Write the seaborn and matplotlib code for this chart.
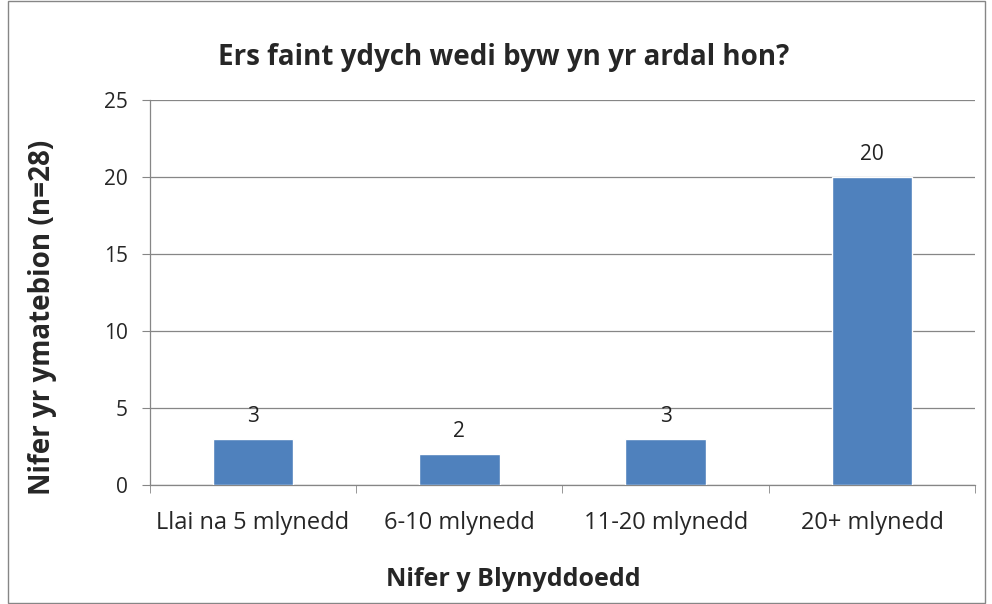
import matplotlib
matplotlib.use("Agg")
import matplotlib.pyplot as plt
import seaborn as sns
import pandas as pd
from matplotlib.patches import Rectangle

# data
categories = ["Llai na 5 mlynedd", "6-10 mlynedd", "11-20 mlynedd", "20+ mlynedd"]
counts = [3, 2, 3, 20]
title = "Ers faint ydych wedi byw yn yr ardal hon?"
xlabel = "Nifer y Blynyddoedd"
ylabel = "Nifer yr ymatebion (n=28)"

df = pd.DataFrame({"cat": categories, "n": counts})

sns.set_style("white")
plt.rcParams["font.family"] = ["Open Sans", "DejaVu Sans"]

fig = plt.figure(figsize=(9.92, 6.04), dpi=100)
ax = fig.add_axes([0.151, 0.197, 0.832, 0.637])

sns.barplot(data=df, x="cat", y="n", color="#4F81BD", width=0.39,
            saturation=1, ax=ax, zorder=3)

ax.set_ylim(0, 25)
ax.set_yticks(range(0, 26, 5))
ax.set_xlim(-0.5, len(categories) - 0.5)
ax.grid(axis="y", color="#868686", linewidth=0.9, zorder=0)
ax.set_axisbelow(True)

for i, v in enumerate(counts):
    ax.text(i, v + 0.8, str(v), ha="center", va="bottom", fontsize=15, color="#222222")

for s in ["top", "right"]:
    ax.spines[s].set_visible(False)
for s in ["left", "bottom"]:
    ax.spines[s].set_color("#868686")
    ax.spines[s].set_linewidth(0.9)

ax.tick_params(axis="y", left=True, length=6, color="#868686", labelsize=15, pad=10)
ax.tick_params(axis="x", bottom=False, labelsize=17, pad=15)
# category boundary ticks on x axis
ax.set_xticks([i - 0.5 for i in range(len(categories) + 1)], minor=True)
ax.tick_params(axis="x", which="minor", bottom=True, length=6, color="#868686")

ax.set_xlabel(xlabel, fontsize=18, fontweight="bold")
ax.set_ylabel(ylabel, fontsize=20, fontweight="bold")
ax.xaxis.set_label_coords(0.44, -0.212)
ax.yaxis.set_label_coords(-0.113, 0.436)
fig.text(0.508, 0.905, title, ha="center", va="center", fontsize=20, fontweight="bold")

# chart border
fig.add_artist(Rectangle((0.008, 0.002), 0.985, 0.997, transform=fig.transFigure,
                         fill=False, edgecolor="#868686", linewidth=1))

fig.savefig("out.png", dpi=100)
